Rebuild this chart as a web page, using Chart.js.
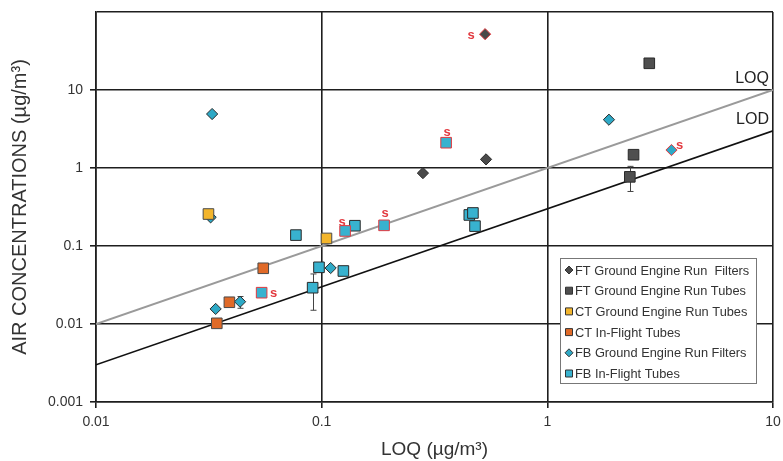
<!DOCTYPE html>
<html>
<head>
<meta charset="utf-8">
<script src="https://cdn.jsdelivr.net/npm/chart.js@4/dist/chart.umd.min.js"></script>
<style>
  html, body { margin: 0; padding: 0; background: #fff; }
</style>
</head>
<body>
<canvas id="airChart" width="783" height="461"></canvas>
<script>
// ---- data ----
const xTicks = [0.01, 0.1, 1, 10];
const yTicks = [0.001, 0.01, 0.1, 1, 10, 100];

const ftFiltersX = [0.53, 0.535, 0.281];
const ftFiltersY = [52, 1.29, 0.86];
const ftFiltersS = [true, false, false];

const ftTubesX = [2.83, 2.41, 2.32];
const ftTubesY = [22, 1.48, 0.77];
const ftTubesErrLow = [null, null, 0.50];
const ftTubesErrHigh = [null, null, 1.05];

const ctGroundX = [0.0315, 0.105];
const ctGroundY = [0.257, 0.125];

const ctFlightX = [0.0551, 0.039, 0.0343];
const ctFlightY = [0.0518, 0.019, 0.0102];

const fbFiltersX = [0.0327, 0.0322, 0.1096, 0.0435, 0.0339, 1.875, 3.55];
const fbFiltersY = [4.92, 0.233, 0.0522, 0.0193, 0.0156, 4.16, 1.70];
const fbFiltersS = [false, false, false, false, false, false, true];
const fbFiltersErrLow = [null, null, null, 0.0159, null, null, null];
const fbFiltersErrHigh = [null, null, null, 0.0225, null, null, null];

const fbFlightX = [0.0769, 0.1404, 0.127, 0.189, 0.356, 0.0973, 0.1248, 0.0912, 0.0542, 0.451, 0.468, 0.478];
const fbFlightY = [0.138, 0.182, 0.156, 0.184, 2.11, 0.0533, 0.0478, 0.0292, 0.0252, 0.25, 0.265, 0.18];
const fbFlightS = [false, false, true, true, true, false, false, false, true, false, false, false];
const fbFlightErrLow = [null, null, null, null, null, null, null, 0.015, null, null, null, null];
const fbFlightErrHigh = [null, null, null, null, null, null, null, 0.0438, null, null, null, null];

const loqX = [0.01, 10];
const loqY = [0.01, 10];
const lodX = [0.01, 10];
const lodY = [0.003, 3];

// ---- helpers ----
const RED = '#e2393f';
const FONT = '"Liberation Sans", Arial, sans-serif';
const toPoints = (xs, ys) => xs.map((x, i) => ({ x: x, y: ys[i] }));
const borders = (flags, normal) => flags ? flags.map(f => f ? RED : normal) : normal;

function markerSet(label, xs, ys, style, fill, edge, flags, errLow, errHigh) {
    return {
        label: label,
        data: toPoints(xs, ys),
        pointStyle: style,
        pointRadius: style === 'rect' ? 7.5 : 5.6,
        pointBackgroundColor: fill,
        pointBorderColor: borders(flags, edge),
        pointBorderWidth: 1,
        sFlags: flags || null,
        errLow: errLow || null,
        errHigh: errHigh || null,
        inLegend: true
    };
}

function refLine(label, xs, ys, color, width) {
    return {
        label: label,
        data: toPoints(xs, ys),
        showLine: true,
        borderColor: color,
        borderWidth: width,
        pointRadius: 0,
        fill: false,
        inLegend: false
    };
}

// placement of the red "s" marks next to flagged points
const sOffsets = {
    'FT Ground Engine Run  Filters': { 0: [-14, 1] },
    'FB Ground Engine Run Filters': { 6: [8, -5] },
    'FB In-Flight Tubes': { 2: [-3, -9], 3: [1, -12], 4: [1, -10], 8: [12, 1] }
};

const overlay = {
    id: 'overlay',
    beforeDatasetsDraw(chart) {
        const ctx = chart.ctx, xs = chart.scales.x, ys = chart.scales.y;
        ctx.save();
        ctx.strokeStyle = '#444';
        ctx.lineWidth = 1;
        chart.data.datasets.forEach(ds => {
            if (!ds.errLow) return;
            ds.errLow.forEach((lo, i) => {
                if (lo == null) return;
                const px = Math.round(xs.getPixelForValue(ds.data[i].x)) + 0.5;
                const top = ys.getPixelForValue(ds.errHigh[i]);
                const bot = ys.getPixelForValue(lo);
                ctx.beginPath();
                ctx.moveTo(px, top); ctx.lineTo(px, bot);
                ctx.moveTo(px - 3, top); ctx.lineTo(px + 3, top);
                ctx.moveTo(px - 3, bot); ctx.lineTo(px + 3, bot);
                ctx.stroke();
            });
        });
        ctx.restore();
    },
    afterDatasetsDraw(chart) {
        const ctx = chart.ctx, xs = chart.scales.x, ys = chart.scales.y;
        ctx.save();
        // red "s" marks
        ctx.fillStyle = RED;
        ctx.font = 'bold 13px ' + FONT;
        ctx.textAlign = 'center';
        ctx.textBaseline = 'middle';
        chart.data.datasets.forEach(ds => {
            if (!ds.sFlags) return;
            ds.sFlags.forEach((f, i) => {
                if (!f) return;
                const off = (sOffsets[ds.label] && sOffsets[ds.label][i]) || [0, -10];
                const px = xs.getPixelForValue(ds.data[i].x);
                const py = ys.getPixelForValue(ds.data[i].y);
                ctx.fillText('s', px + off[0], py + off[1]);
            });
        });
        // labels at the end of the reference lines
        ctx.fillStyle = '#222';
        ctx.font = '16px ' + FONT;
        ctx.textAlign = 'right';
        ctx.textBaseline = 'bottom';
        chart.data.datasets.forEach(ds => {
            if (ds.inLegend) return;
            const last = ds.data[ds.data.length - 1];
            ctx.fillText(ds.label, xs.getPixelForValue(last.x) - 4, ys.getPixelForValue(last.y) - 3);
        });
        ctx.restore();
    },
    afterDraw(chart) {
        // boxed legend inside the plot, lower right
        const ctx = chart.ctx;
        const items = chart.data.datasets.filter(ds => ds.inLegend);
        const bx = 560, by = 258, bw = 196, bh = 125, row = 20.7;
        ctx.save();
        ctx.fillStyle = '#fff';
        ctx.fillRect(bx, by, bw, bh);
        ctx.strokeStyle = '#777';
        ctx.lineWidth = 1;
        ctx.strokeRect(bx + 0.5, by + 0.5, bw, bh);
        ctx.font = '12.8px ' + FONT;
        ctx.textBaseline = 'middle';
        ctx.textAlign = 'left';
        items.forEach((ds, i) => {
            const cy = by + 12 + i * row;
            const cx = bx + 9;
            ctx.fillStyle = ds.pointBackgroundColor;
            ctx.strokeStyle = '#333';
            ctx.beginPath();
            if (ds.pointStyle === 'rect') {
                ctx.rect(cx - 3.5, cy - 3.5, 7, 7);
            } else {
                ctx.moveTo(cx, cy - 4); ctx.lineTo(cx + 4, cy);
                ctx.lineTo(cx, cy + 4); ctx.lineTo(cx - 4, cy);
                ctx.closePath();
            }
            ctx.fill();
            ctx.stroke();
            ctx.fillStyle = '#333';
            ctx.fillText(ds.label, cx + 6, cy + 1);
        });
        ctx.restore();
    }
};

const gridColor = '#1e1e1e';
const tickFont = { family: FONT, size: 14 };

new Chart(document.getElementById('airChart').getContext('2d'), {
    type: 'scatter',
    data: {
        datasets: [
            markerSet('FT Ground Engine Run  Filters', ftFiltersX, ftFiltersY, 'rectRot', '#4a4a4a', '#2a2a2a', ftFiltersS),
            markerSet('FT Ground Engine Run Tubes', ftTubesX, ftTubesY, 'rect', '#4f4f4f', '#2a2a2a', null, ftTubesErrLow, ftTubesErrHigh),
            markerSet('CT Ground Engine Run Tubes', ctGroundX, ctGroundY, 'rect', '#f3b52c', '#4a4a4a'),
            markerSet('CT In-Flight Tubes', ctFlightX, ctFlightY, 'rect', '#e06a28', '#4a4a4a'),
            markerSet('FB Ground Engine Run Filters', fbFiltersX, fbFiltersY, 'rectRot', '#2ea9c6', '#2a2a2a', fbFiltersS, fbFiltersErrLow, fbFiltersErrHigh),
            markerSet('FB In-Flight Tubes', fbFlightX, fbFlightY, 'rect', '#38b2cf', '#2a2a2a', fbFlightS, fbFlightErrLow, fbFlightErrHigh),
            refLine('LOQ', loqX, loqY, '#9a9a9a', 2),
            refLine('LOD', lodX, lodY, '#111', 1.6)
        ]
    },
    options: {
        responsive: false,
        animation: false,
        layout: { padding: { top: 12, right: 10, left: 0, bottom: 0 } },
        plugins: {
            legend: { display: false },
            tooltip: { enabled: false }
        },
        scales: {
            x: {
                type: 'logarithmic',
                min: 0.01,
                max: 10,
                afterBuildTicks: s => { s.ticks = xTicks.map(v => ({ value: v })); },
                afterFit: s => { s.height = 59; s.paddingLeft = 0; s.paddingRight = 0; },
                ticks: {
                    color: '#333',
                    font: tickFont,
                    padding: 6,
                    maxRotation: 0,
                    callback: v => String(v)
                },
                grid: { color: gridColor, lineWidth: 1.6, tickLength: 6, tickColor: gridColor },
                border: { color: gridColor, width: 1.6 },
                title: {
                    display: true,
                    text: 'LOQ (µg/m³)',
                    color: '#333',
                    font: { family: FONT, size: 19 },
                    padding: { top: 0, bottom: 0 }
                }
            },
            y: {
                type: 'logarithmic',
                min: 0.001,
                max: 100,
                afterBuildTicks: s => { s.ticks = yTicks.map(v => ({ value: v })); },
                afterFit: s => { s.width = 96; s.paddingTop = 0; s.paddingBottom = 0; },
                ticks: {
                    color: '#333',
                    font: tickFont,
                    padding: 7,
                    callback: v => (v >= 100 ? '' : String(v))
                },
                grid: {
                    color: gridColor,
                    lineWidth: 1.6,
                    tickLength: 6,
                    tickColor: c => (c.tick && c.tick.value >= 100 ? 'rgba(0,0,0,0)' : gridColor)
                },
                border: { color: gridColor, width: 1.6 },
                title: {
                    display: true,
                    text: 'AIR CONCENTRATIONS (µg/m³)',
                    color: '#333',
                    font: { family: FONT, size: 20 },
                    padding: { top: 8, bottom: 0 }
                }
            }
        }
    },
    plugins: [overlay]
});
</script>
</body>
</html>
